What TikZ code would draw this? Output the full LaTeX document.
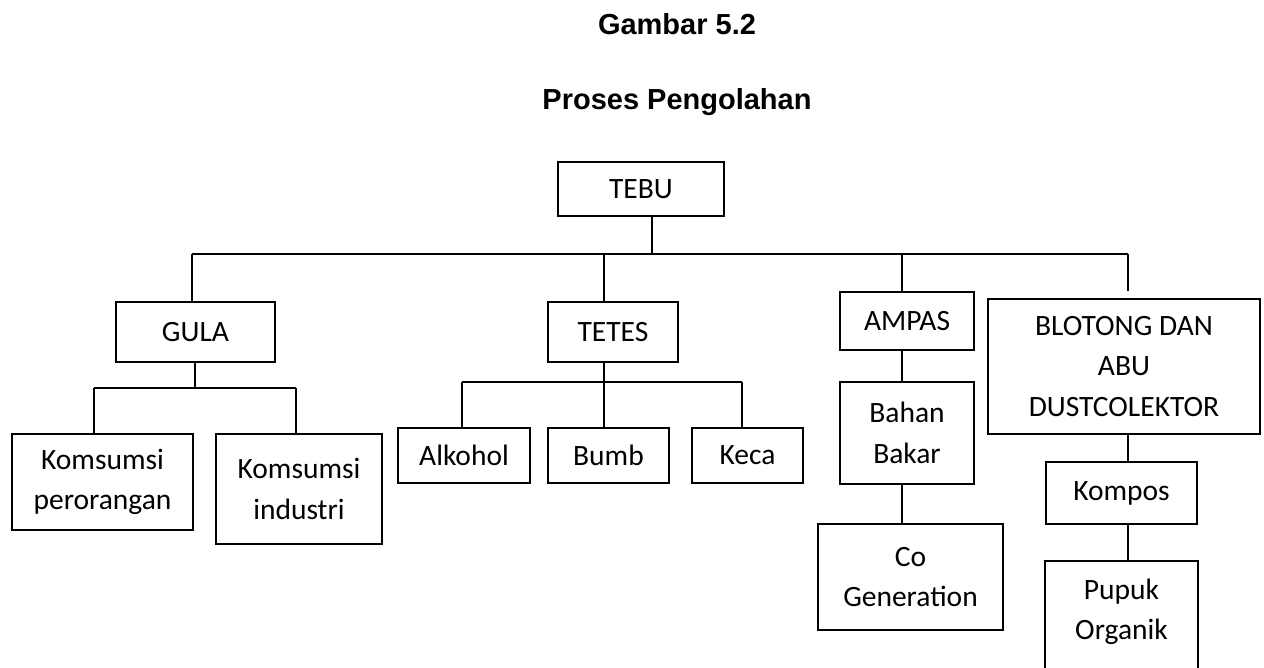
\documentclass[tikz,border=0pt]{standalone}
\usepackage{fontspec}
\setmainfont{Carlito}
\newfontfamily\titlefont{Liberation Sans}
\begin{document}
\begin{tikzpicture}[x=1pt,y=-1pt,
  box/.style={draw, line width=1.8pt, align=center, inner sep=0pt, font=\fontsize{29.5}{40.5}\selectfont},
  conn/.style={line width=1.8pt},
  ttl/.style={font=\titlefont\bfseries\fontsize{29}{34}\selectfont, inner sep=0pt, anchor=base}]
\useasboundingbox (0,0) rectangle (1264,668);
\clip (0,0) rectangle (1264,668);
% titles
\node[ttl] (t1) at (677,35) {Gambar 5.2};
\node[ttl] (t2) at (677,110) {Proses Pengolahan};
% boxes
\node[box, minimum width=166pt, minimum height=54pt] (tebu) at (641,189) {TEBU};
\node[box, minimum width=159pt, minimum height=60pt] (gula) at (195.5,332) {GULA};
\node[box, minimum width=130pt, minimum height=60pt] (tetes) at (613,332) {TETES};
\node[box, minimum width=134pt, minimum height=58pt] (ampas) at (907,321) {AMPAS};
\node[box, minimum width=272pt, minimum height=135pt] (blot) at (1124,366.5) {BLOTONG DAN\\ABU\\DUSTCOLEKTOR};
\node[box, minimum width=181pt, minimum height=96pt] (kp) at (102.5,482) {Komsumsi\\perorangan};
\node[box, minimum width=166pt, minimum height=110pt] (ki) at (299,489) {Komsumsi\\industri};
\node[box, minimum width=132pt, minimum height=55pt] (alk) at (464,455.5) {Alkohol};
\node[box, minimum width=121pt, minimum height=55pt] (bumb) at (608.5,455.5) {Bumb};
\node[box, minimum width=111pt, minimum height=55pt] (keca) at (747.5,455.5) {Keca};
\node[box, minimum width=134pt, minimum height=102pt] (bahan) at (907,433) {Bahan\\Bakar};
\node[box, minimum width=185pt, minimum height=106pt] (cogen) at (910.5,577) {Co\\Generation};
\node[box, draw=none, minimum width=151pt, minimum height=100pt] (pupuk) at (1121.5,612) {Pupuk\\Organik};
\draw[conn] (pupuk.north west) rectangle ([yshift=-30pt]pupuk.south east);
\node[box, minimum width=151pt, minimum height=62pt] (kompos) at (1121.5,493) {Kompos};
% junction coordinates
\coordinate (busT) at (652,254);
\coordinate (busL) at (192,254);
\coordinate (busR) at (1128,254);
\coordinate (jT) at (604,254);
\coordinate (jA) at (902,254);
\coordinate (gbus) at (195,388);
\coordinate (gL) at (94,388);
\coordinate (gR) at (296,388);
\coordinate (tbus) at (604,382);
\coordinate (tL) at (462,382);
\coordinate (tR) at (742,382);
% connectors
\draw[conn] (tebu.south -| busT) -- (busT);
\draw[conn] (busL) -- (busR);
\draw[conn] (busL) -- (busL |- gula.north);
\draw[conn] (jT) -- (jT |- tetes.north);
\draw[conn] (jA) -- (jA |- ampas.north);
\draw[conn, shorten >=7pt] (busR) -- (busR |- blot.north);
\draw[conn] (gula.south -| gbus) -- (gbus);
\draw[conn] (gL) -- (gR);
\draw[conn] (gL) -- (gL |- kp.north);
\draw[conn] (gR) -- (gR |- ki.north);
\draw[conn] (tetes.south -| tbus) -- (tbus);
\draw[conn] (tL) -- (tR);
\draw[conn] (tL) -- (tL |- alk.north);
\draw[conn] (tbus) -- (tbus |- bumb.north);
\draw[conn] (tR) -- (tR |- keca.north);
\draw[conn] (ampas.south -| jA) -- (jA |- bahan.north);
\draw[conn] (bahan.south -| jA) -- (jA |- cogen.north);
\draw[conn] (blot.south -| busR) -- (busR |- kompos.north);
\draw[conn] (kompos.south -| busR) -- (busR |- pupuk.north);
\end{tikzpicture}
\end{document}
